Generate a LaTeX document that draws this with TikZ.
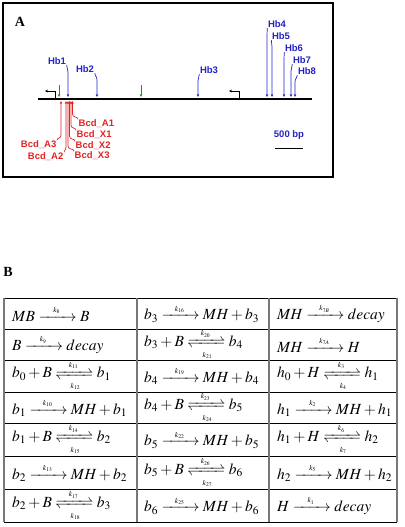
\documentclass[tikz,border=0pt]{standalone}
\usepackage{amsmath, mathtools}
\usepackage{mathptmx}
\usepackage[no-math]{fontspec}
\setmainfont{Liberation Serif}
\newfontfamily\arialfont{Liberation Sans}
\usepackage{tikz}
\usetikzlibrary{arrows.meta, positioning, calc}
\definecolor{hbblue}{RGB}{35, 35, 200}
\definecolor{bcdred}{RGB}{225, 35, 35}
\definecolor{sitegreen}{RGB}{30, 150, 30}
\definecolor{gridgray}{RGB}{120, 120, 120}
\newcommand{\klab}[1]{\makebox[29pt]{\fontsize{7.5}{7.5}\selectfont$#1$}}
\newcommand{\fwd}[1]{\xrightarrow{\klab{#1}}}
\newcommand{\rev}[2]{\xrightleftharpoons[{\klab{#2}}]{\klab{#1}}}
\tikzset{
  hblab/.style={font=\arialfont\bfseries\fontsize{9.5}{10}\selectfont, text=hbblue, inner sep=0.5pt},
  bcdlab/.style={font=\arialfont\bfseries\fontsize{9.5}{10}\selectfont, text=bcdred, inner sep=0.5pt},
  hbline/.style={hbblue, line width=0.7pt, -{Stealth[length=3pt, width=2.6pt]}},
  bcdline/.style={bcdred, line width=0.7pt, -{Stealth[length=3pt, width=2.6pt]}},
  siteline/.style={sitegreen, line width=0.9pt, -{Stealth[length=3pt, width=2.8pt]}},
  promline/.style={black, line width=0.8pt, -{Stealth[length=3pt, width=2.8pt]}},
  cell/.style={anchor=west, inner sep=0pt, font=\fontsize{15.5}{18}\selectfont},
  panel/.style={font=\bfseries\fontsize{14}{15}\selectfont}
}
\begin{document}
\begin{tikzpicture}[x=1pt, y={(0pt,-1pt)}, >=Stealth]
    \useasboundingbox (0,0) rectangle (404,527);
    % panel A
    \draw[line width=1.4pt] (3,3) rectangle (333,177);
    \node[panel] (lblA) at (20,22) {A};
    \coordinate (dnaL) at (38,99);
    \coordinate (dnaR) at (312,99);
    \draw[line width=1.6pt] (dnaL) -- (dnaR);
    \coordinate (prom1) at (55,98);
    \coordinate (prom2) at (239,98);
    \draw[promline] (prom1) |- ++(-10,-7);
    \draw[promline] (prom2) |- ++(-10,-7);
    \foreach \gx [count=\i] in {59,141} {
        \coordinate (site\i) at (\gx,85);
        \coordinate (site\i tip) at (\gx,97);
        \draw[siteline] (site\i) -- (site\i tip);
    }
    \foreach \nm/\lx/\ly/\ax/\side in {Hb1/57/61/68/east, Hb2/85/69/97/east, Hb3/209/70/198/west, Hb4/277/24/267/west, Hb5/281/36/272/west, Hb6/294/48/284/west, Hb7/302/60/291/west, Hb8/307/71/295/west} {
        \node[hblab] (\nm) at (\lx,\ly) {\nm};
        \coordinate (\nm tip) at (\ax,97);
        \draw[hbline] (\nm.south \side) .. controls +(0,3) and +(0,-4) .. ({\ax},{\ly+11}) -- (\nm tip);
    }
    \foreach \nm/\lx/\ly/\ax/\side in {A1/78/124/72.5/west, X1/76/135/71/west, X2/75/146/69.5/west, X3/74/156/68/west, A3/57/145/61/east, A2/64/157/66/east} {
        \node[bcdlab, anchor=\side] (bcd\nm) at (\lx,\ly) {Bcd\_\nm};
        \coordinate (bcd\nm tip) at (\ax,101);
        \draw[bcdline] (bcd\nm.north \side) .. controls +(0,-3) and +(0,4) .. ({\ax},{\ly-10}) -- (bcd\nm tip);
    }
    \node[hblab] (bp) at (289,135) {500 bp};
    \coordinate (barL) at (275,148);
    \coordinate (barR) at (303,148);
    \draw[line width=0.8pt] (barL) -- (barR);
    % panel B
    \node[panel] (lblB) at (8,272) {B};
    \foreach \ry in {298,329,360,392,423,456,489,522}
        \draw[line width=0.7pt] (4,\ry) -- (397,\ry);
    \foreach \cx in {4,137,269,397}
        \draw[gridgray, line width=1.3pt] (\cx,298) -- (\cx,522);
    \node[cell] (r1c1) at (12,313.5) {$MB \fwd{k_8} B$};
    \node[cell] (r2c1) at (12,344.5) {$B \fwd{k_9} decay$};
    \node[cell] (r3c1) at (12,376) {$b_0 + B \rev{k_{11}}{k_{12}} b_1$};
    \node[cell] (r4c1) at (12,407.5) {$b_1 \fwd{k_{10}} MH + b_1$};
    \node[cell] (r5c1) at (12,439.5) {$b_1 + B \rev{k_{14}}{k_{15}} b_2$};
    \node[cell] (r6c1) at (12,472.5) {$b_2 \fwd{k_{13}} MH + b_2$};
    \node[cell] (r7c1) at (12,505.5) {$b_2 + B \rev{k_{17}}{k_{18}} b_3$};
    \node[cell] (r1c2) at (144,313.5) {$b_3 \fwd{k_{16}} MH + b_3$};
    \node[cell] (r2c2) at (144,344.5) {$b_3 + B \rev{k_{20}}{k_{21}} b_4$};
    \node[cell] (r3c2) at (144,376) {$b_4 \fwd{k_{19}} MH + b_4$};
    \node[cell] (r4c2) at (144,407.5) {$b_4 + B \rev{k_{23}}{k_{24}} b_5$};
    \node[cell] (r5c2) at (144,439.5) {$b_5 \fwd{k_{22}} MH + b_5$};
    \node[cell] (r6c2) at (144,472.5) {$b_5 + B \rev{k_{26}}{k_{27}} b_6$};
    \node[cell] (r7c2) at (144,505.5) {$b_6 \fwd{k_{25}} MH + b_6$};
    \node[cell] (r1c3) at (277,313.5) {$MH \fwd{k_{7B}} decay$};
    \node[cell] (r2c3) at (277,344.5) {$MH \fwd{k_{7A}} H$};
    \node[cell] (r3c3) at (277,376) {$h_0 + H \rev{k_3}{k_4} h_1$};
    \node[cell] (r4c3) at (277,407.5) {$h_1 \fwd{k_2} MH + h_1$};
    \node[cell] (r5c3) at (277,439.5) {$h_1 + H \rev{k_6}{k_7} h_2$};
    \node[cell] (r6c3) at (277,472.5) {$h_2 \fwd{k_5} MH + h_2$};
    \node[cell] (r7c3) at (277,505.5) {$H \fwd{k_1} decay$};
\end{tikzpicture}
\end{document}
